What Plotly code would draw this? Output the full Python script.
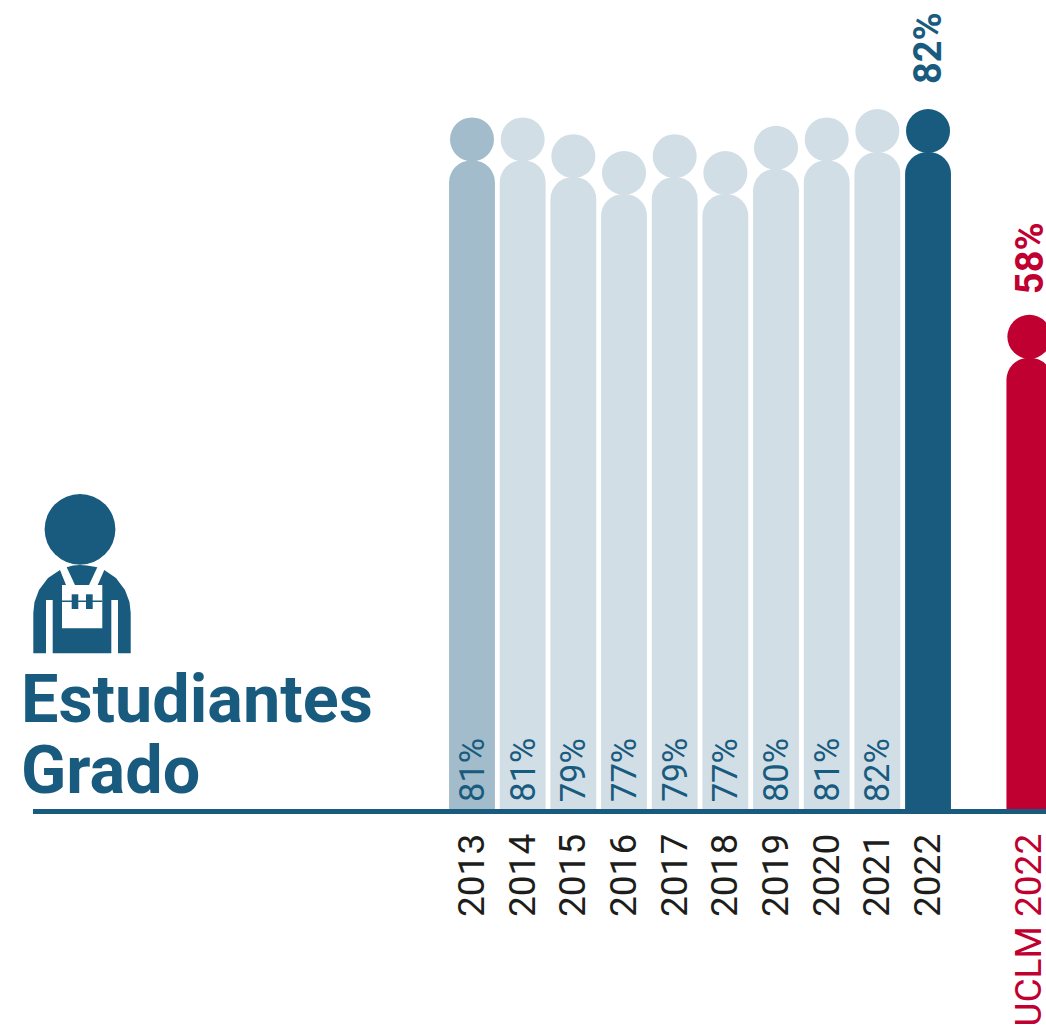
import plotly.graph_objects as go

categories = ["2013", "2014", "2015", "2016", "2017", "2018", "2019", "2020", "2021", "2022", "UCLM 2022"]
values = [81, 81, 79, 77, 79, 77, 80, 81, 82, 82, 57.5]
value_labels = ["81%", "81%", "79%", "77%", "79%", "77%", "80%", "81%", "82%", "82%", "58%"]
axis_order = categories[:10] + [" "] + categories[10:]

W, H = 1046, 1031
L, B = 33, 1031 - 809
BLUE = "#185B7F"
MID = "#A3BCCB"
LIGHT = "#D1DEE6"
RED = "#C00031"
INK = "#1D1D1B"
colors = [MID] + [LIGHT] * 8 + [BLUE, RED]

PX_PER_UNIT = 8.4
BOTTOM = 82 - (809 - 152) / PX_PER_UNIT
TOP = 82 + 152 / PX_PER_UNIT
HEAD_GAP = 21 / PX_PER_UNIT
X0 = (L - 472) / 50.67
X1 = (W - 472) / 50.67


def fx(p):
    return (p - L) / (W - L)


def fy(p):
    return (809 - p) / 809


def path(points):
    return "M" + " L".join(f"{fx(a):.5f},{fy(b):.5f}" for a, b in points) + " Z"


fig = go.Figure()
fig.add_bar(x=categories, y=values, width=0.905, marker=dict(color=colors, line_width=0),
            hoverinfo="skip")
fig.add_scatter(x=categories, y=[v + HEAD_GAP for v in values], mode="markers",
                marker=dict(size=44, color=colors, line_width=0), hoverinfo="skip")

annotations = []
for c, lab in zip(categories[:9], value_labels[:9]):
    annotations.append(dict(x=axis_order.index(c), y=BOTTOM, xref="x", yref="y", text=lab, textangle=-90,
                            showarrow=False, yanchor="bottom", yshift=5,
                            font=dict(family="Roboto", size=34.5, color=BLUE, weight=400)))
for c, v, lab, col, shift in [(categories[9], values[9], value_labels[9], BLUE, 66),
                              (categories[10], values[10], value_labels[10], RED, 62)]:
    annotations.append(dict(x=axis_order.index(c), y=v, xref="x", yref="y", text=lab, textangle=-90,
                            showarrow=False, yanchor="bottom", yshift=shift,
                            font=dict(family="Roboto", size=38, color=col, weight=700)))
for txt, base in [("Estudiantes", 722), ("Grado", 793)]:
    annotations.append(dict(x=fx(19), y=fy(base + 18), xref="paper", yref="paper", text=txt,
                            showarrow=False, xanchor="left", yanchor="bottom",
                            font=dict(family="Roboto", size=66.5, color=BLUE, weight=700)))

body = [(60, 570), (48, 578), (39, 590), (34.5, 602), (33.3, 613), (33.3, 653.3), (46, 653.3), (46, 600),
        (52.7, 600), (52.7, 653.3), (111.3, 653.3), (111.3, 600), (118, 600), (118, 653.3),
        (130.7, 653.3), (130.7, 613), (129.5, 602), (125, 590), (116, 578), (104.3, 570),
        (97.7, 585), (102.3, 585), (102.3, 628.3), (62, 628.3), (62, 585), (66, 585)]
collar = [(66.7, 567.3), (73, 565.5), (80, 565), (87, 565.5), (97.3, 567.3), (89, 585), (75, 585)]
bib = [[(71.7, 594.3), (78.3, 594.3), (78.3, 609), (71.7, 609)],
       [(86, 594.3), (92.7, 594.3), (92.7, 609), (86, 609)],
       [(62, 600.5), (102.3, 600.5), (102.3, 602), (62, 602)]]
shapes = [dict(type="path", xref="paper", yref="paper", path=path(p), fillcolor=BLUE, line_width=0)
          for p in [body, collar] + bib]
shapes.append(dict(type="circle", xref="paper", yref="paper", x0=fx(44.6), x1=fx(115.4),
                   y0=fy(564.7), y1=fy(494), fillcolor=BLUE, line_width=0))

ticktext = categories[:10] + [f'<span style="color:{RED}">{categories[10]}</span>']
fig.update_layout(
    width=W, height=H, autosize=False,
    margin=dict(l=L, r=0, t=0, b=B, pad=0),
    paper_bgcolor="white", plot_bgcolor="white",
    barcornerradius=22, showlegend=False,
    annotations=annotations, shapes=shapes,
    xaxis=dict(type="category", categoryorder="array", categoryarray=axis_order,
               range=[X0, X1], tickmode="array", tickvals=categories, ticktext=ticktext,
               tickangle=-90, ticks="", ticklabelstandoff=5, automargin=False,
               tickfont=dict(family="Roboto", size=37, color=INK, weight=400),
               showline=True, linecolor=BLUE, linewidth=5, showgrid=False, zeroline=False),
    yaxis=dict(range=[BOTTOM, TOP], visible=False, automargin=False),
)
fig.write_html("out.html", config=dict(displayModeBar=False),
               post_script="document.body.style.margin='0';document.body.style.overflow='hidden';")
